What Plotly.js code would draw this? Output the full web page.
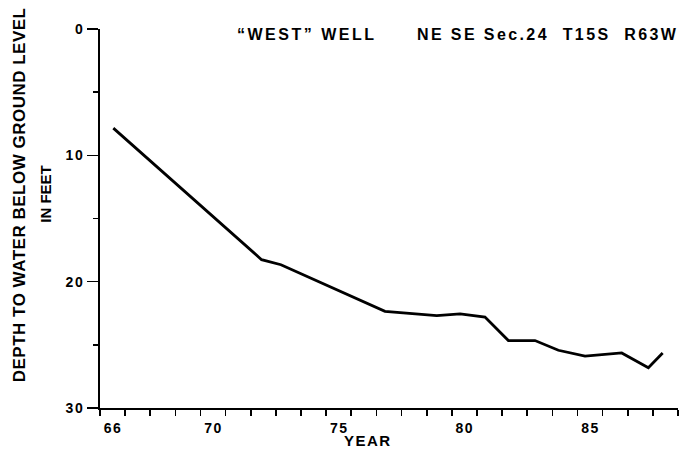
<!DOCTYPE html>
<html>
<head>
<meta charset="utf-8">
<script src="https://cdn.plot.ly/plotly-3.0.1.min.js"></script>
<style>
html,body{margin:0;padding:0;background:#fff;}
#chart{width:688px;height:462px;}
#chart .xtick text, #chart .ytick text{letter-spacing:1.5px;}
</style>
</head>
<body>
<div id="chart"></div>
<script>
// Data
const years = [66.53, 72.43, 73.2, 77.34, 79.4, 80.33, 81.32, 82.25, 83.31, 84.24, 85.3, 86.76, 87.82, 88.39];
const depth = [7.85, 18.26, 18.66, 22.35, 22.69, 22.55, 22.8, 24.66, 24.66, 25.43, 25.9, 25.64, 26.82, 25.64];
const xTickVals = [66,67,68,69,70,71,72,73,74,75,76,77,78,79,80,81,82,83,84,85,86,87,88,89];
const xTickText = ['66','','','','70','','','','','75','','','','','80','','','','','85','','','',''];
const yTickVals = [0, 10, 20, 30];
const yTickText = ['0', '10', '20', '30'];
const titleLeft = '\u201CWEST\u201D&nbsp;WELL';
const titleRight = 'NE SE Sec.24&nbsp;&nbsp;T15S&nbsp;&nbsp;R63W';
const xTitle = 'YEAR';
const yTitle1 = 'DEPTH TO WATER BELOW GROUND LEVEL';
const yTitle2 = 'IN FEET';

const FONT = 'Liberation Sans, Arial, sans-serif';
const sp = (t, ls) => '<span style="letter-spacing:' + ls + 'px">' + t + '</span>';

const trace = {
  x: years, y: depth, type: 'scatter', mode: 'lines',
  line: {color: '#000', width: 2.8}, hoverinfo: 'skip'
};

const layout = {
  width: 688, height: 462,
  margin: {l: 100, r: 10, t: 29, b: 54},
  paper_bgcolor: '#fff', plot_bgcolor: '#fff',
  showlegend: false,
  font: {family: FONT, color: '#000', size: 14, weight: 'bold'},
  xaxis: {
    range: [66, 89], showgrid: false, zeroline: false,
    showline: true, linecolor: '#000', linewidth: 2,
    tickmode: 'array', tickvals: xTickVals, ticktext: xTickText,
    ticks: 'outside', ticklen: 6, tickwidth: 1.6, tickcolor: '#000',
    ticklabelshift: 13,
    tickfont: {family: FONT, size: 14, color: '#000', weight: 'bold'}
  },
  yaxis: {
    range: [30, 0], showgrid: false, zeroline: false,
    showline: true, linecolor: '#000', linewidth: 2,
    tickmode: 'array', tickvals: yTickVals, ticktext: yTickText,
    ticks: 'outside', ticklen: 11, tickwidth: 1.6, tickcolor: '#000',
    minor: {tickmode: 'array', tickvals: [5, 15, 25], ticks: 'outside', ticklen: 5, tickwidth: 1.6, tickcolor: '#000', showgrid: false},
    tickfont: {family: FONT, size: 14, color: '#000', weight: 'bold'}
  },
  annotations: [
    {text: sp(titleLeft, 2.5), xref: 'paper', yref: 'paper', x: (235-100)/578, y: 1 - (35-29)/379.5,
     xanchor: 'left', yanchor: 'middle', showarrow: false,
     font: {family: FONT, size: 16, color: '#000', weight: 'bold'}},
    {text: sp(titleRight, 2.4), xref: 'paper', yref: 'paper', x: (680-100)/578, y: 1 - (35-29)/379.5,
     xanchor: 'right', yanchor: 'middle', showarrow: false,
     font: {family: FONT, size: 16, color: '#000', weight: 'bold'}},
    {text: sp(xTitle, 1.5), xref: 'paper', yref: 'paper', x: (368-100)/578, y: -(441-408.5)/379.5,
     xanchor: 'center', yanchor: 'middle', showarrow: false,
     font: {family: FONT, size: 15, color: '#000', weight: 'bold'}},
    {text: sp(yTitle1, 0.5), xref: 'paper', yref: 'paper', x: (19.5-100)/578, y: 1 - (195-29)/379.5,
     xanchor: 'center', yanchor: 'middle', textangle: -90, showarrow: false,
     font: {family: FONT, size: 17, color: '#000', weight: 'bold'}},
    {text: yTitle2, xref: 'paper', yref: 'paper', x: (46-100)/578, y: 1 - (194-29)/379.5,
     xanchor: 'center', yanchor: 'middle', textangle: -90, showarrow: false,
     font: {family: FONT, size: 15, color: '#000', weight: 'bold'}}
  ]
};

Plotly.newPlot('chart', [trace], layout, {displayModeBar: false, staticPlot: true});
</script>
</body>
</html>
